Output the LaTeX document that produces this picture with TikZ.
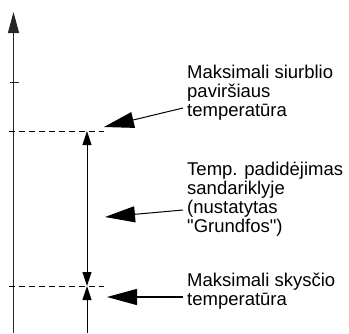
\documentclass[tikz,border=0pt]{standalone}
\usepackage{fontspec}
\setmainfont{Liberation Sans}[Ligatures=TeXOff]
\usetikzlibrary{arrows.meta}
\tikzset{
  dimtip/.tip={Triangle[length=14pt,width=9pt]},
  axistip/.tip={Triangle[length=21pt,width=11pt]},
  leadtip/.tip={Triangle[length=30pt,width=16pt]}
}
\begin{document}
\begin{tikzpicture}[x=1pt,y=-1pt,
  axisline/.style={line width=1.2pt, draw=black!85},
  tickline/.style={line width=1pt, draw=black!85},
  dashline/.style={line width=0.9pt, dash pattern=on 6pt off 4pt},
  leader/.style={line width=1pt, -{leadtip}},
  dimline/.style={line width=0.9pt},
  lbl/.style={anchor=base west, inner sep=0pt, align=left, font=\fontsize{18.5}{19}\selectfont}
]
\useasboundingbox (0,0) rectangle (349,333);
% axis
\coordinate (axisbot) at (13.5,333);
\coordinate (axistop) at (13.5,12);
\draw[axisline, -{axistip}] (axisbot) -- (axistop);
\coordinate (t1l) at (10,82);
\coordinate (t1r) at (19,82);
\draw[tickline] (t1l) -- (t1r);
% dashed levels
\coordinate (d1l) at (9,131);
\coordinate (d1r) at (104,131);
\coordinate (d2l) at (9,286);
\coordinate (d2r) at (104,286);
\draw[dashline] (d1l) -- (d1r);
\draw[dashline] (d2l) -- (d2r);
% dimension line
\coordinate (v1) at (87,131);
\coordinate (v2) at (87,286);
\coordinate (v3) at (87,333);
\draw[dimline, {dimtip}-{dimtip}] (v1) -- (v2);
\draw[dimline, -{dimtip}] (v3) -- (v2);
% labels (anchored at the baseline of their last line)
\node[lbl] (l1) at (187,116) {Maksimali siurblio\\paviršiaus\\temperatūra};
\node[lbl] (l2) at (187,232) {Temp. padidėjimas\\sandariklyje\\(nustatytas\\"Grundfos")};
\node[lbl] (l3) at (187,305) {Maksimali skysčio\\temperatūra};
% leaders
\coordinate (s1) at (183,108);
\coordinate (a1) at (104,127);
\coordinate (s2) at (183,210);
\coordinate (a2) at (105,217);
\coordinate (s3) at (183,297);
\coordinate (a3) at (107,297);
\draw[leader] (s1) -- (a1);
\draw[leader] (s2) -- (a2);
\draw[leader, line width=1.4pt] (s3) -- (a3);
\end{tikzpicture}
\end{document}
